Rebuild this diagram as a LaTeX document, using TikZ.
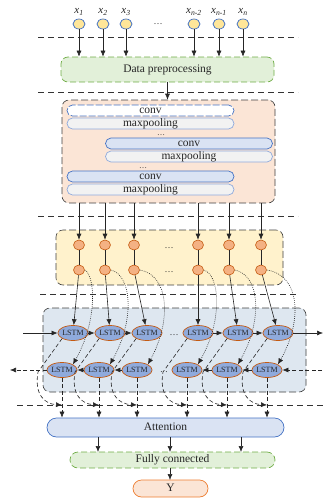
\documentclass[tikz,border=0pt]{standalone}
\usepackage{fontspec}
\setmainfont{Liberation Serif}
\usetikzlibrary{arrows.meta,shapes.geometric,calc}
\definecolor{gfill}{HTML}{E2F0D9}
\definecolor{gline}{HTML}{70AD47}
\definecolor{peach}{HTML}{FBE5D6}
\definecolor{convfill}{HTML}{DAE3F3}
\definecolor{blueline}{HTML}{4472C4}
\definecolor{mpfill}{HTML}{F2F2F2}
\definecolor{mpline}{HTML}{8FAADC}
\definecolor{yellowbox}{HTML}{FFF2CC}
\definecolor{orangec}{HTML}{F4B183}
\definecolor{brownl}{HTML}{C55A11}
\definecolor{lstmbox}{HTML}{DEE7F0}
\definecolor{lstmfill}{HTML}{8FAADC}
\definecolor{inyellow}{HTML}{FFE699}
\definecolor{orangeline}{HTML}{ED7D31}
\definecolor{txt}{HTML}{262626}
\begin{document}
\begin{tikzpicture}[x=1pt,y=-1pt,
  sepline/.style={draw=black!80,line width=0.6pt,dash pattern=on 6pt off 4pt},
  frame/.style={draw=black!75,line width=0.6pt,dash pattern=on 7pt off 3pt,rounded corners=7pt},
  arr/.style={-{Latex[length=6pt,width=5pt]},line width=0.6pt,draw=black!85},
  darr/.style={arr,dash pattern=on 4pt off 2.5pt},
  dotarr/.style={arr,dash pattern=on 0.8pt off 1.2pt},
  bigtxt/.style={font=\fontsize{11.5}{12}\selectfont,text=txt,text height=7.5pt,text depth=2.2pt,inner sep=0pt},
  pill/.style={bigtxt,minimum width=167pt,minimum height=11pt,rounded corners=5.5pt,line width=0.7pt},
  convl/.style={pill,fill=convfill,draw=blueline},
  mpl/.style={pill,fill=mpfill,draw=mpline},
  incirc/.style={ellipse,minimum width=12pt,minimum height=10pt,inner sep=0pt,fill=inyellow,draw=blueline,line width=0.7pt},
  ocirc/.style={ellipse,minimum width=11pt,minimum height=10pt,inner sep=0pt,fill=orangec,draw=brownl,line width=0.6pt},
  lstm/.style={ellipse,minimum width=21pt,minimum height=15pt,inner sep=0pt,fill=lstmfill,draw=brownl,line width=0.7pt,font=\fontsize{8}{8}\selectfont,text=txt},
  lbl/.style={font=\fontsize{11}{11}\selectfont\itshape,text=txt,inner sep=0pt},
  dotslbl/.style={font=\fontsize{9}{9}\selectfont,text=txt,inner sep=0pt,text height=1pt,text depth=0pt},
  smalldots/.style={font=\fontsize{8}{8}\selectfont,text=txt,inner sep=0pt,text height=1pt,text depth=0pt}
]
\useasboundingbox (0,0) rectangle (324,499);

% separators
\draw[sepline] (38,37) -- (298,37);
\draw[sepline] (38,92) -- (298,92);
\draw[sepline] (38,216) -- (298,216);
\draw[sepline] (40,294) -- (298,294);
\draw[sepline] (17,405) -- (324,405);

% inputs
\foreach \i/\x/\t in {1/79/{1},2/103/{2},3/126/{3},4/194/{n-2},5/219/{n-1},6/243/{n}}{
  \node[incirc] (in\i) at (\x,24) {};
  \node[lbl] (xl\i) at (\x,12) {x\textsubscript{\t}};
}
\node[dotslbl] (indots) at (158,24) {\dots};

% preprocessing
\node[bigtxt,minimum width=213pt,minimum height=25pt,fill=gfill,draw=gline,line width=0.7pt,dash pattern=on 6pt off 3pt,rounded corners=7pt] (pre) at (167.5,69.5) {Data preprocessing};
\foreach \i in {1,...,6}{\draw[arr] (in\i) -- (in\i |- pre.north);}

% CNN block
\node[frame,fill=peach,minimum width=213pt,minimum height=103pt,inner sep=0pt] (cnn) at (168.5,151.5) {};
\draw[arr] (pre.south) -- (pre.south |- cnn.north);
\node[pill,fill=white,draw=blueline,dash pattern=on 7pt off 2pt] (c1) at (150.5,110.5) {conv};
\node[mpl] (m1) at (150.5,123.5) {maxpooling};
\node[smalldots] (cd1) at (161,135) {\dots};
\node[convl] (c2) at (189,143.5) {conv};
\node[mpl] (m2) at (189,156.5) {maxpooling};
\node[smalldots] (cd2) at (143,167.5) {\dots};
\node[convl] (c3) at (150.5,176.5) {conv};
\node[mpl] (m3) at (150.5,189.5) {maxpooling};

% feature block
\node[frame,fill=yellowbox,minimum width=227pt,minimum height=55pt,inner sep=0pt] (feat) at (169.5,257.5) {};
\foreach \i/\x in {1/79,2/105,3/134,4/198,5/229,6/261}{
  \node[ocirc] (a\i) at (\x,245) {};
  \node[ocirc] (o\i) at (\x,270) {};
  \draw[line width=0.6pt,draw=black!85] (a\i) -- (o\i);
  \draw[arr] (\x,203) -- (a\i);
}
\node[dotslbl] (fd1) at (169,248) {\dots};
\node[dotslbl] (fd2) at (169,272) {\dots};

% LSTM block
\node[frame,fill=lstmbox,minimum width=263pt,minimum height=84pt,inner sep=0pt] (lbox) at (174.5,350) {};
\foreach \i/\x in {1/73,2/110,3/147,4/198,5/238,6/278}{
  \node[lstm] (f\i) at (\x,333) {LSTM};
}
\foreach \i/\x in {1/62,2/99,3/137,4/187,5/227,6/267}{
  \node[lstm] (b\i) at (\x,370) {LSTM};
  \coordinate (j\i) at (\x,405);
}
\node[dotslbl] (ld1) at (174,335) {\dots};
\node[dotslbl] (ld2) at (164,372) {. .};

% attention, fc, output
\node[bigtxt,minimum width=237pt,minimum height=19pt,fill=convfill,draw=blueline,line width=0.7pt,rounded corners=9.5pt] (att) at (165.5,427.5) {Attention};
\node[bigtxt,minimum width=205pt,minimum height=16pt,fill=gfill,draw=gline,line width=0.7pt,dash pattern=on 6pt off 3pt,rounded corners=8pt] (fc) at (172.5,460) {Fully connected};
\node[bigtxt,minimum width=75pt,minimum height=17pt,fill=peach,draw=orangeline,line width=0.7pt,rounded corners=8.5pt] (y) at (170.5,488.5) {Y};

% forward chain
\coordinate (fin) at (23,333);
\coordinate (fout) at (323,333);
\draw[arr] (fin) -- (f1);
\draw[arr] (f1) -- (f2);
\draw[arr] (f2) -- (f3);
\draw[arr] (f4) -- (f5);
\draw[arr] (f5) -- (f6);
\draw[arr] (f6) -- (fout);

% backward chain
\coordinate (bin) at (322,370);
\coordinate (bout) at (10,370);
\draw[darr] (bin) -- (b6);
\draw[arr] (b6) -- (b5);
\draw[arr] (b5) -- (b4);
\draw[arr] (b3) -- (b2);
\draw[arr] (b2) -- (b1);
\draw[darr] (b1) -- (bout);

% features to LSTMs
\foreach \i/\fx in {1/73,2/110,3/147,4/198,5/238,6/278}{
  \draw[arr] (o\i) -- (f\i);
  \draw[dotarr] (o\i.east) .. controls (\fx+22,275) and (\fx+25,320) .. (b\i.north east);
  \draw[darr] (f\i.south west) -- ($(f\i)+(-35,39)$) .. controls ($(f\i)+(-39,62)$) and ($(f\i)+(-28,71)$) .. (j\i);
  \draw[darr] (b\i.south) -- (b\i |- att.north);
}

% attention to fc to output
\foreach \x in {98,170,241}{\draw[arr] (\x,437) -- (\x,452);}
\draw[arr] (170,468) -- (170,480);
\end{tikzpicture}
\end{document}
